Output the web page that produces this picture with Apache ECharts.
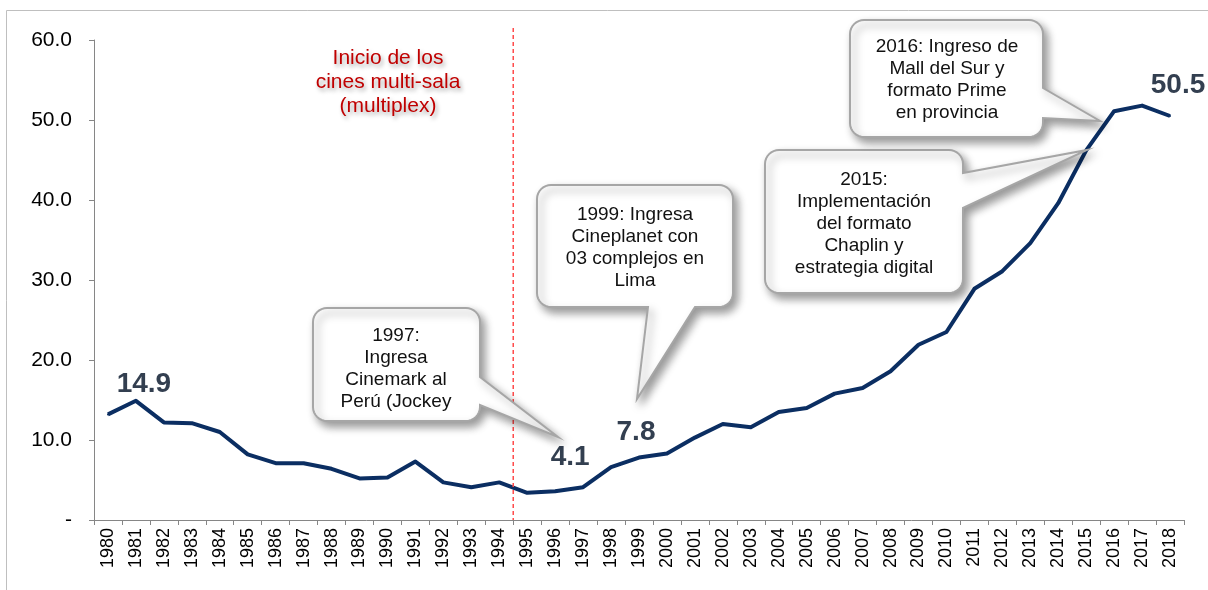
<!DOCTYPE html>
<html>
<head>
<meta charset="utf-8">
<script src="https://cdn.jsdelivr.net/npm/echarts@6/dist/echarts.min.js"></script>
<style>
  html, body { margin: 0; padding: 0; background: #fff; }
  #main { width: 1208px; height: 590px; }
</style>
</head>
<body>
<div id="main"></div>
<script>
// datos: asistencia anual (millones)
var years = [];
for (var yr = 1980; yr <= 2018; yr++) years.push(String(yr));
var values = [13.2, 14.9, 12.2, 12.1, 11.0, 8.2, 7.1, 7.1, 6.4, 5.2,
              5.3, 7.3, 4.7, 4.1, 4.7, 3.4, 3.6, 4.1, 6.6, 7.8,
              8.3, 10.3, 12.0, 11.6, 13.5, 14.0, 15.8, 16.5, 18.6, 21.9,
              23.5, 28.9, 31.1, 34.6, 39.6, 46.2, 51.1, 51.8, 50.5];
var yTicks = [0, 10, 20, 30, 40, 50, 60];
// años con etiqueta de valor
var labeledYears = ['1981', '1997', '1999', '2018'];

// ajustes de posicion de las etiquetas (no son datos)
var labelOffsets = { '1981': [8, 0], '1997': [-13, -13], '1999': [-3, -8], '2018': [8, -14] };

var mycharts = echarts.init(document.getElementById('main'));

var seriesData = values.map(function (v, i) {
    var y = years[i];
    if (labeledYears.indexOf(y) < 0) return v;
    return {
        value: v,
        label: {
            show: true,
            position: 'top',
            distance: 2,
            offset: labelOffsets[y],
            formatter: function (p) { return Number(p.value).toFixed(1); },
            fontFamily: 'Arial, "Liberation Sans"',
            fontWeight: 'bold',
            fontSize: 28,
            color: '#333f50'
        }
    };
});

var option = {
    backgroundColor: '#fff',
    animation: false,
    grid: { left: 94, right: 24, top: 40, bottom: 70 },
    xAxis: {
        type: 'category',
        data: years,
        boundaryGap: true,
        axisLine: { lineStyle: { color: '#868686', width: 1 } },
        axisTick: { show: true, length: 5, lineStyle: { color: '#868686' } },
        axisLabel: {
            rotate: 90,
            interval: 0,
            margin: 8,
            color: '#000',
            fontSize: 18,
            fontFamily: 'Arial, "Liberation Sans"'
        },
        splitLine: { show: false }
    },
    yAxis: {
        type: 'value',
        min: yTicks[0],
        max: yTicks[yTicks.length - 1],
        interval: 10,
        axisLine: { show: true, lineStyle: { color: '#868686', width: 1 } },
        axisTick: { show: true, length: 5, lineStyle: { color: '#868686' } },
        axisLabel: {
            margin: 22,
            color: '#000',
            fontSize: 21,
            fontFamily: 'Arial, "Liberation Sans"',
            formatter: function (v) { return v === 0 ? '-' : v.toFixed(1); }
        },
        splitLine: { show: false }
    },
    series: [{
        type: 'line',
        data: seriesData,
        symbol: 'circle',
        symbolSize: 2,
        showSymbol: true,
        showAllSymbol: true,
        itemStyle: { color: '#0b2e62' },
        lineStyle: { color: '#0b2e62', width: 4, join: 'round' },
        z: 3
    }]
};
mycharts.setOption(option);

// globo de texto: rectangulo redondeado + puntero en un solo poligono
function callout(x, y, w, h, r, ptr) {
    var pts = [];
    function arc(cx, cy, a0, a1) {
        for (var k = 0; k <= 8; k++) {
            var a = (a0 + (a1 - a0) * k / 8) * Math.PI / 180;
            pts.push([cx + r * Math.cos(a), cy + r * Math.sin(a)]);
        }
    }
    arc(x + r, y + r, 180, 270);
    arc(x + w - r, y + r, 270, 360);
    if (ptr.edge === 'right') {
        pts.push([x + w, ptr.a], ptr.tip, [x + w, ptr.b]);
    }
    arc(x + w - r, y + h - r, 0, 90);
    if (ptr.edge === 'bottom') {
        pts.push([ptr.b, y + h], ptr.tip, [ptr.a, y + h]);
    }
    arc(x + r, y + h - r, 90, 180);
    return {
        type: 'polygon',
        shape: { points: pts },
        style: {
            fill: '#fff',
            stroke: '#a6a6a6',
            lineWidth: 2,
            shadowBlur: 9,
            shadowOffsetX: 4,
            shadowOffsetY: 5,
            shadowColor: 'rgba(0,0,0,0.4)'
        },
        z: 10
    };
}

function boxText(cx, top, txt) {
    return {
        type: 'text',
        x: cx,
        y: top,
        style: {
            text: txt,
            font: '19px Arial, "Liberation Sans"',
            fill: '#111',
            align: 'center',
            textAlign: 'center',
            verticalAlign: 'top',
            textVerticalAlign: 'top',
            lineHeight: 22
        },
        z: 11
    };
}

var p94 = mycharts.convertToPixel({ seriesIndex: 0 }, ['1994', 0]);
var p95 = mycharts.convertToPixel({ seriesIndex: 0 }, ['1995', 0]);
var dashX = (p94[0] + p95[0]) / 2;

mycharts.setOption({
    graphic: [
        // marco
        {
            type: 'rect',
            shape: { x: 6.5, y: 10.5, width: 1400, height: 800 },
            style: { fill: 'none', stroke: '#bfbfbf', lineWidth: 1 },
            z: 0
        },
        // linea roja punteada: inicio multiplex
        {
            type: 'line',
            shape: { x1: dashX, y1: 28, x2: dashX, y2: p94[1] },
            style: { stroke: '#ff4b4b', lineWidth: 1.5, lineDash: [4, 3] },
            z: 5
        },
        {
            type: 'text',
            x: 388,
            y: 46,
            style: {
                text: 'Inicio de los\ncines multi-sala\n(multiplex)',
                font: '21px Arial, "Liberation Sans"',
                fill: '#c00000',
                align: 'center',
                textAlign: 'center',
                verticalAlign: 'top',
                textVerticalAlign: 'top',
                lineHeight: 24,
                textShadowColor: 'rgba(0,0,0,0.35)',
                textShadowBlur: 4,
                textShadowOffsetX: 2,
                textShadowOffsetY: 3
            },
            z: 6
        },
        callout(313, 308, 167, 113, 14, { edge: 'right', a: 377, b: 405, tip: [558, 437] }),
        boxText(396, 325, '1997:\nIngresa\nCinemark al\nPerú (Jockey'),
        callout(537, 185, 196, 122, 14, { edge: 'bottom', a: 648, b: 695, tip: [637, 399] }),
        boxText(635, 204, '1999: Ingresa\nCineplanet con\n03 complejos en\nLima'),
        callout(765, 150, 198, 143, 14, { edge: 'right', a: 173, b: 208, tip: [1087, 150] }),
        boxText(864, 169, '2015:\nImplementación\ndel formato\nChaplin y\nestrategia digital'),
        callout(850, 20, 193, 117, 14, { edge: 'right', a: 88, b: 118, tip: [1100, 121] }),
        boxText(947, 36, '2016: Ingreso de\nMall del Sur y\nformato Prime\nen provincia')
    ]
});

window.addEventListener('resize', function () {
    mycharts.resize();
});
</script>
</body>
</html>
